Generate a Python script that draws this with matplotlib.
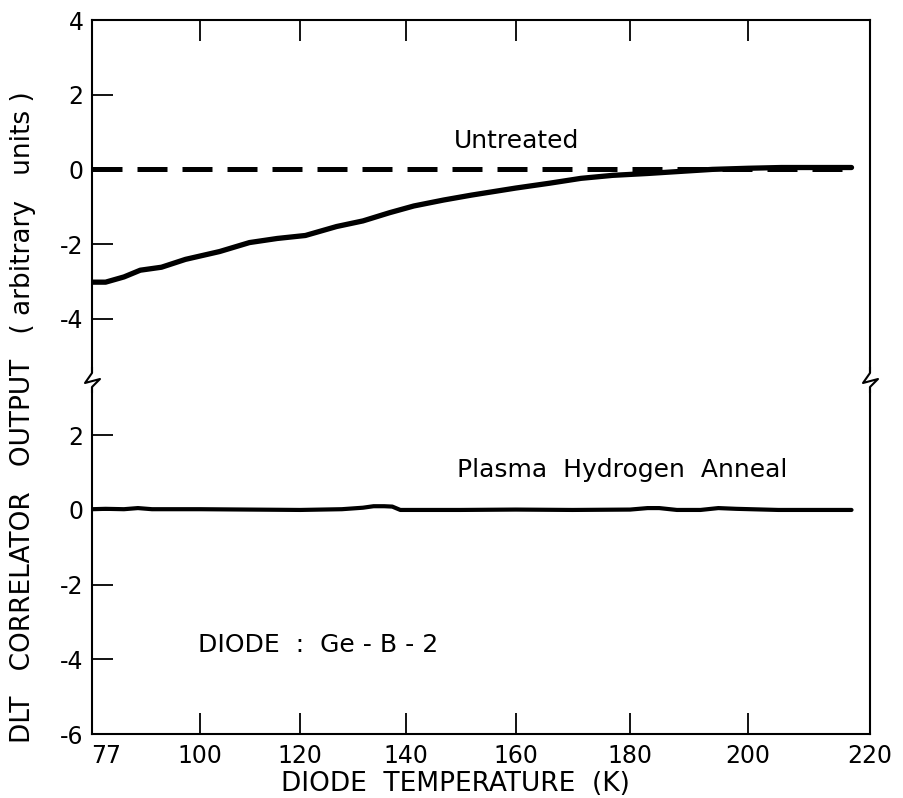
import numpy as np
import matplotlib
matplotlib.use("Agg")
import matplotlib.pyplot as plt
from matplotlib.lines import Line2D
from matplotlib.patches import Rectangle
import matplotlib.transforms as mtransforms

plt.rcParams["font.family"] = ["DejaVu Sans"]
plt.rcParams["axes.unicode_minus"] = False

# Untreated diode: DLT correlator output vs temperature
untreated_T = [77, 80, 84, 87.5, 92, 97, 104, 110, 115.5, 121, 127, 132, 137,
               141.5, 147, 152, 160, 166, 171.5, 177, 183, 189, 194, 200,
               205.5, 211, 217]
untreated_y = [-3.02, -3.02, -2.88, -2.70, -2.62, -2.41, -2.20, -1.96, -1.85,
               -1.77, -1.53, -1.38, -1.16, -0.98, -0.82, -0.69, -0.50, -0.37,
               -0.24, -0.16, -0.11, -0.05, 0.0, 0.03, 0.05, 0.05, 0.05]

# zero reference of the untreated trace
baseline_T = [77, 217]
baseline_y = [0, 0]

# Plasma hydrogen anneal
anneal_T = [77, 80, 84, 87, 90, 100, 110, 120, 128, 132, 134, 136, 137.5, 139,
            150, 160, 170, 180, 183, 185, 188, 192, 195, 198, 205, 217]
anneal_y = [0.02, 0.03, 0.02, 0.05, 0.02, 0.02, 0.01, 0.0, 0.02, 0.06, 0.1,
            0.1, 0.09, 0.0, 0.0, 0.01, 0.0, 0.01, 0.05, 0.05, 0.0, 0.0, 0.05,
            0.03, 0.0, 0.0]

x_ticks = [77, 100, 120, 140, 160, 180, 200, 220]
top_yticks = [-4, -2, 0, 2, 4]
bottom_yticks = [-6, -4, -2, 0, 2]

W, H = 904, 798
fig = plt.figure(figsize=(W / 100, H / 100), dpi=100)

left, right = 92 / W, 870 / W
y_top, y_break, y_bot = 20, 380, 734
ax_top = fig.add_axes([left, 1 - y_break / H, right - left, (y_break - y_top) / H])
ax_bot = fig.add_axes([left, 1 - y_bot / H, right - left, (y_bot - y_break) / H])

# the temperature axis of the recorder is not linear
fwd = lambda t: np.power(np.clip(t, 1e-6, None), 1.3)
inv = lambda u: np.power(np.clip(u, 1e-6, None), 1 / 1.3)

for ax in (ax_top, ax_bot):
    ax.set_xscale("function", functions=(fwd, inv))
    ax.set_xlim(77, 220)
    ax.set_xticks(x_ticks)
    ax.minorticks_off()
    for s in ax.spines.values():
        s.set_linewidth(1.5)
    ax.tick_params(axis="both", direction="in", length=15, width=1.3,
                   labelsize=17, right=False)

ax_top.spines["bottom"].set_visible(False)
ax_bot.spines["top"].set_visible(False)

ax_top.tick_params(axis="x", top=True, bottom=False, labelbottom=False)
ax_bot.tick_params(axis="x", top=False, bottom=True, pad=7)
ax_top.tick_params(axis="y", pad=6)
ax_bot.tick_params(axis="y", pad=6)

ax_top.set_ylim(-5.64, 4)
ax_top.set_yticks(top_yticks)
ax_bot.set_ylim(-6, 3.48)
ax_bot.set_yticks(bottom_yticks)

# nudge the "77" label off the corner
lab77 = ax_bot.get_xticklabels()[0]
lab77.set_transform(lab77.get_transform() +
                    mtransforms.ScaledTranslation(14 / 100, 0, fig.dpi_scale_trans))

ax_top.plot(baseline_T, baseline_y, color="black", lw=3.6,
            dashes=(6, 3), dash_capstyle="butt")
ax_top.plot(untreated_T, untreated_y, color="black", lw=3.8,
            solid_capstyle="round")
ax_bot.plot(anneal_T, anneal_y, color="black", lw=3.0, solid_capstyle="round")

ax_top.text(0.546, 0.665, "Untreated", transform=ax_top.transAxes,
            ha="center", va="center", fontsize=18)
ax_bot.text(0.681, 0.745, "Plasma  Hydrogen  Anneal", transform=ax_bot.transAxes,
            ha="center", va="center", fontsize=18)
ax_bot.text(0.136, 0.25, "DIODE  :  Ge - B - 2", transform=ax_bot.transAxes,
            ha="left", va="center", fontsize=18)

fig.text(455 / W, 1 - 784 / H, "DIODE  TEMPERATURE  (K)", ha="center",
         va="center", fontsize=19)
fig.text(23 / W, 1 - 417 / H, "DLT   CORRELATOR   OUTPUT   ( arbitrary   units )",
         ha="center", va="center", rotation=90, fontsize=19)

# axis break marks on both side spines
for xp in (92, 870):
    cover = Rectangle(((xp - 3) / W, 1 - (y_break + 7) / H), 6 / W, 14 / H,
                      transform=fig.transFigure, facecolor="white",
                      edgecolor="none", zorder=10)
    fig.add_artist(cover)
    px = [xp, xp, xp - 7, xp + 8, xp, xp]
    py = [y_break - 12, y_break - 7, y_break + 3, y_break - 1, y_break + 7, y_break + 12]
    fig.add_artist(Line2D([p / W for p in px], [1 - p / H for p in py],
                          transform=fig.transFigure, color="black", lw=1.5,
                          zorder=11))

fig.savefig("out.png", dpi=100)
